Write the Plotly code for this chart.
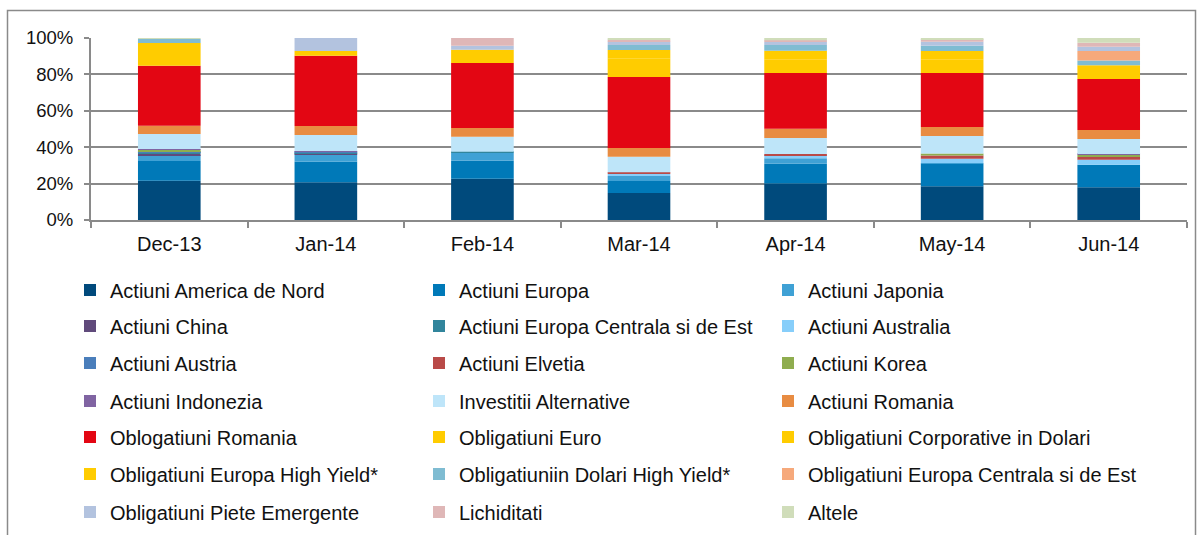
import plotly.graph_objects as go

months = ["Dec-13", "Jan-14", "Feb-14", "Mar-14", "Apr-14", "May-14", "Jun-14"]

actiuni_america_de_nord = [21.6, 20.7, 22.7, 14.8, 20.0, 18.5, 18.0]
actiuni_europa = [10.8, 11.3, 9.9, 6.6, 10.9, 12.4, 12.4]
actiuni_japonia = [3.3, 4.1, 4.4, 2.8, 3.0, 0.4, 0.0]
actiuni_china = [0.6, 0.6, 0.0, 0.0, 0.0, 0.0, 0.0]
actiuni_europa_centrala = [0.8, 0.6, 0.5, 0.0, 0.0, 0.0, 0.0]
actiuni_australia = [0.0, 0.0, 0.0, 1.1, 1.8, 2.4, 2.7]
actiuni_austria = [0.8, 0.3, 0.0, 0.0, 0.0, 0.0, 0.0]
actiuni_elvetia = [0.0, 0.0, 0.0, 0.9, 0.6, 1.8, 1.5]
actiuni_korea = [0.8, 0.0, 0.0, 0.0, 0.0, 1.1, 1.2]
actiuni_indonezia = [0.3, 0.3, 0.0, 0.0, 0.0, 0.0, 0.5]
investitii_alternative = [8.3, 8.8, 8.3, 8.6, 8.8, 9.6, 8.2]
actiuni_romania = [4.5, 4.9, 4.7, 4.8, 5.1, 4.9, 5.0]
obligatiuni_romania = [33.0, 38.7, 35.8, 39.0, 30.6, 29.7, 28.0]
obligatiuni_euro = [0.0, 0.0, 0.0, 0.0, 0.0, 0.0, 0.0]
obligatiuni_corporative_dolari = [7.0, 2.6, 7.3, 10.0, 7.5, 7.3, 7.5]
obligatiuni_europa_hy = [5.5, 0.0, 0.0, 4.8, 4.7, 4.8, 0.0]
obligatiuni_dolari_hy = [2.2, 0.0, 0.0, 2.8, 3.2, 2.9, 2.7]
obligatiuni_europa_centrala = [0.0, 0.0, 0.0, 0.0, 0.0, 0.0, 5.2]
obligatiuni_piete_emergente = [0.0, 7.1, 2.2, 1.8, 1.6, 2.2, 2.3]
lichiditati = [0.0, 0.0, 4.2, 1.0, 1.0, 1.3, 2.2]
altele = [0.3, 0.0, -1.0, 1.0, 1.2, 0.9, 2.6]

series_names = [
    "Actiuni America de Nord", "Actiuni Europa", "Actiuni Japonia",
    "Actiuni China", "Actiuni Europa Centrala si de Est", "Actiuni Australia",
    "Actiuni Austria", "Actiuni Elvetia", "Actiuni Korea",
    "Actiuni Indonezia", "Investitii Alternative", "Actiuni Romania",
    "Oblogatiuni Romania", "Obligatiuni Euro", "Obligatiuni Corporative in Dolari",
    "Obligatiuni Europa High Yield*", "Obligatiuniin Dolari High Yield*", "Obligatiuni Europa Centrala si de Est",
    "Obligatiuni Piete Emergente", "Lichiditati", "Altele",
]
series_values = [
    actiuni_america_de_nord, actiuni_europa, actiuni_japonia,
    actiuni_china, actiuni_europa_centrala, actiuni_australia,
    actiuni_austria, actiuni_elvetia, actiuni_korea,
    actiuni_indonezia, investitii_alternative, actiuni_romania,
    obligatiuni_romania, obligatiuni_euro, obligatiuni_corporative_dolari,
    obligatiuni_europa_hy, obligatiuni_dolari_hy, obligatiuni_europa_centrala,
    obligatiuni_piete_emergente, lichiditati, altele,
]
series_colors = [
    "#004a7c", "#0079b8", "#3fa1d5",
    "#604a7b", "#31859c", "#87cefa",
    "#4a7ebb", "#b94a48", "#8fad4f",
    "#8064a2", "#bee5f9", "#e88c42",
    "#e30613", "#ffcc00", "#ffcc00",
    "#ffcc00", "#7fbcd2", "#f6a97b",
    "#b3c3df", "#dfb7b7", "#d0ddba",
]

W, H = 1202, 535
L, R, T, B = 91, 15, 38, 315
FONT = "Liberation Sans, Arial, sans-serif"

row_centers = [290, 326, 363, 401, 437, 474, 512]
col_lefts = [70, 419, 768]

fig = go.Figure()
legend_layout = {}
for i, (name, vals, col) in enumerate(zip(series_names, series_values, series_colors)):
    key = "legend" if i == 0 else f"legend{i + 1}"
    fig.add_trace(go.Bar(
        x=months, y=vals, name=name,
        marker=dict(color=col, line=dict(width=0)),
        legend=key, showlegend=True,
        cliponaxis=False,
        hovertemplate="%{x}: %{y}%<extra>" + name + "</extra>",
    ))
    legend_layout[key] = dict(
        orientation="v", xref="container", yref="container",
        x=col_lefts[i % 3] / W, y=1 - row_centers[i // 3] / H,
        xanchor="left", yanchor="middle",
        font=dict(family=FONT, size=20, color="#111111"),
        bgcolor="rgba(0,0,0,0)", borderwidth=0,
        itemclick=False, itemdoubleclick=False,
    )

pw = W - L - R
ph = H - T - B

def px_x(p):
    return (p - L) / pw

def px_y(p):
    return (H - B - p) / ph

fig.update_layout(
    width=W, height=H, showlegend=True,
    margin=dict(l=L, r=R, t=T, b=B, pad=0, autoexpand=False),
    barmode="relative", bargap=0.6,
    paper_bgcolor="white", plot_bgcolor="white",
    font=dict(family=FONT, size=18, color="#111111"),
    xaxis=dict(
        type="category", showgrid=False, showline=True, linecolor="#8a8a8a", linewidth=2,
        ticks="outside", tickson="boundaries", ticklen=6, tickcolor="#8a8a8a", tickwidth=2,
        ticklabelstandoff=5,
        tickfont=dict(family=FONT, size=20, color="#111111"), fixedrange=True,
    ),
    yaxis=dict(
        range=[0, 100], dtick=20, ticksuffix="%", showgrid=True, gridcolor="#8a8a8a", gridwidth=2,
        showline=True, linecolor="#8a8a8a", linewidth=2, zeroline=False,
        ticks="outside", ticklen=5, tickcolor="#8a8a8a", tickwidth=2,
        ticklabelstandoff=7,
        tickfont=dict(family=FONT, size=18.5, color="#111111"), fixedrange=True,
    ),
    shapes=[dict(
        type="rect", xref="paper", yref="paper",
        x0=px_x(7.5), x1=px_x(1195.5), y0=px_y(545), y1=px_y(10.5),
        line=dict(color="#8a8a8a", width=1.5), fillcolor="rgba(0,0,0,0)", layer="below",
    )],
    **legend_layout,
)

fig.write_html("out.html", config={"displayModeBar": False},
               post_script="document.body.style.margin='0';")
